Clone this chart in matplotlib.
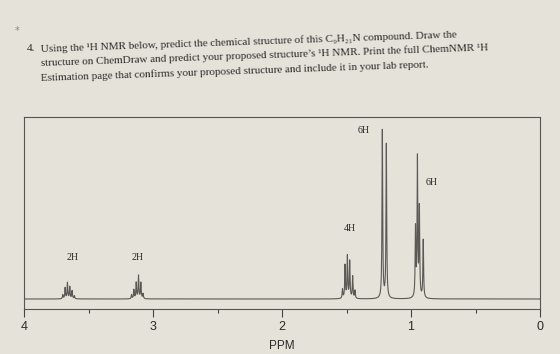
import matplotlib

matplotlib.use("Agg")

import matplotlib.pyplot as plt
import numpy as np

PAPER = "#e5e2da"
INK = "#2b2a28"
TRACE = "#5a5955"

QUESTION_LINES = [
    "Using the \u00b9H NMR below, predict the chemical structure of this C\u2089H\u2082\u2081N compound. Draw the",
    "structure on ChemDraw and predict your proposed structure\u2019s \u00b9H NMR. Print the full ChemNMR \u00b9H",
    "Estimation page that confirms your proposed structure and include it in your lab report.",
]

# line lists (ppm, height in px above baseline)
m1_ppm = [3.699, 3.681, 3.663, 3.645, 3.627, 3.609]
m1_int = [4, 11, 16, 12, 8, 3]
m2_ppm = [3.166, 3.148, 3.130, 3.112, 3.094, 3.077]
m2_int = [4, 9, 16, 23, 16, 5]
m3_ppm = [1.531, 1.511, 1.493, 1.475, 1.452, 1.434]
m3_int = [9, 33, 42, 37, 22, 8]
m4_ppm = [1.222, 1.191]
m4_int = [168, 154]
m5_ppm = [0.965, 0.950, 0.935, 0.905]
m5_int = [68, 138, 88, 58]

labels = ["2H", "2H", "4H", "6H", "6H"]
label_ppm = [3.62, 3.12, 1.47, 1.37, 0.84]
label_y = [37, 37, 66, 164, 112]

ppm_ticks = [4, 3, 2, 1, 0]
ppm_minor = [3.5, 2.5, 1.5, 0.5]

fig = plt.figure(figsize=(5.6, 3.54), dpi=100, facecolor=PAPER)

fig.text(15 / 560, 1 - 34 / 354, "*", color="#8a877f", fontsize=7, family="DejaVu Sans")
fig.text(27 / 560, 1 - 51 / 354, "4.", color=INK, fontsize=8.1, family=["Liberation Serif", "DejaVu Serif"])
for i, line in enumerate(QUESTION_LINES):
    fig.text(
        41 / 560,
        1 - (52 + 14.5 * i) / 354,
        line,
        color=INK,
        fontsize=8.05,
        family=["Liberation Serif", "DejaVu Serif"],
        rotation=2.0,
        rotation_mode="anchor",
        ha="left",
        va="baseline",
    )

ax = fig.add_axes([24 / 560, 1 - 309 / 354, 516 / 560, 192 / 354])
ax.set_facecolor("none")

ppm = np.linspace(0, 4, 16001)
spec = np.zeros_like(ppm)
hw = 0.0032
for pos, amp in zip(m1_ppm + m2_ppm + m3_ppm + m4_ppm + m5_ppm,
                    m1_int + m2_int + m3_int + m4_int + m5_int):
    spec += amp * hw**2 / ((ppm - pos) ** 2 + hw**2)

ax.plot(ppm, spec, color=TRACE, lw=0.8)

for text, x, y in zip(labels, label_ppm, label_y):
    ax.text(x, y, text, color=INK, fontsize=7.2, family="Liberation Serif", ha="center", va="bottom")

ax.set_xlim(4, 0)
ax.set_ylim(-10, 182)
ax.set_xticks(ppm_ticks)
ax.set_xticklabels([str(t) for t in ppm_ticks], fontsize=9, family="Liberation Sans", color=INK)
ax.set_xticks(ppm_minor, minor=True)
ax.tick_params(axis="x", which="major", direction="out", length=6, width=0.8, color="#444", pad=3)
ax.tick_params(axis="x", which="minor", direction="out", length=3, width=0.8, color="#444")
ax.set_yticks([])
for spine in ax.spines.values():
    spine.set_color("#555")
    spine.set_linewidth(0.8)
ax.set_xlabel("PPM", fontsize=8.5, family="Liberation Sans", color=INK, labelpad=5)

fig.savefig("out.png", dpi=100, facecolor=PAPER)
